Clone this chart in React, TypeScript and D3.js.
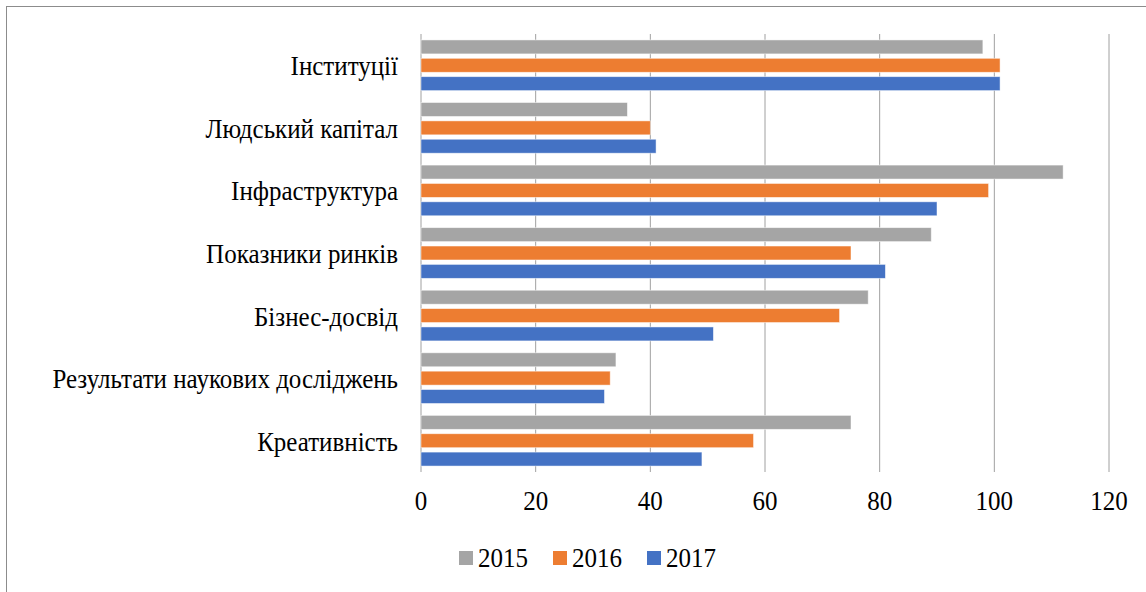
import React, { useEffect, useRef } from 'react';
import * as d3 from 'd3';

// categories top to bottom
const categories = [
  'Інституції',
  'Людський капітал',
  'Інфраструктура',
  'Показники ринків',
  'Бізнес-досвід',
  'Результати наукових досліджень',
  'Креативність',
];
const years = ['2015', '2016', '2017'];
const values2015 = [98, 36, 112, 89, 78, 34, 75];
const values2016 = [101, 40, 99, 75, 73, 33, 58];
const values2017 = [101, 41, 90, 81, 51, 32, 49];
const xTicks = [0, 20, 40, 60, 80, 100, 120];
const colors = ['#a5a5a5', '#ed7d31', '#4472c4'];

const W = 1146;
const H = 592;

export default function App() {
  const ref = useRef<SVGSVGElement>(null);

  useEffect(() => {
    const svg = d3.select(ref.current);
    svg.selectAll('*').remove();
    const series = [values2015, values2016, values2017];

    const x = d3.scaleLinear().domain([0, 120]).range([421, 1109]);
    const y = d3.scaleBand().domain(categories).range([34, 472]).paddingInner(0.19).paddingOuter(0.095);
    const sub = d3.scaleBand().domain(years).range([0, y.bandwidth()]).paddingInner(0.24);

    svg.append('rect')
      .attr('x', 6.5).attr('y', 6.5)
      .attr('width', W + 10).attr('height', H + 10)
      .attr('fill', '#fff').attr('stroke', '#8c8c8c');

    // grid
    svg.append('g').selectAll('line').data(xTicks).join('line')
      .attr('x1', (d) => x(d)).attr('x2', (d) => x(d))
      .attr('y1', 34).attr('y2', 472)
      .attr('stroke', '#a0a0a0');

    // bars
    const groups = svg.append('g').selectAll('g').data(categories).join('g')
      .attr('transform', (c) => `translate(0,${y(c)})`);
    groups.selectAll('rect')
      .data((c, i) => series.map((s, j) => ({ yr: years[j], v: s[categories.indexOf(c)], j })))
      .join('rect')
      .attr('x', x(0))
      .attr('y', (d) => sub(d.yr) as number)
      .attr('width', (d) => x(d.v) - x(0))
      .attr('height', sub.bandwidth())
      .attr('fill', (d) => colors[d.j])
      .attr('stroke', '#fff').attr('stroke-opacity', 0.6).attr('stroke-width', 0.8);

    const label = (g: any) => g
      .style('font-family', 'Liberation Serif')
      .style('font-size', '25px')
      .attr('fill', '#000');

    // category labels
    svg.append('g').selectAll('text').data(categories).join('text')
      .attr('transform', (c) => `translate(398,${(y(c) as number) + y.bandwidth() / 2 + 10}) scale(1,1.1)`)
      .attr('text-anchor', 'end')
      .text((c) => c)
      .call(label);

    // tick labels
    svg.append('g').selectAll('text').data(xTicks).join('text')
      .attr('transform', (t) => `translate(${x(t)},510) scale(1,1.1)`)
      .attr('text-anchor', 'middle')
      .text((t) => String(t))
      .call(label);

    // legend
    const leg = svg.append('g').selectAll('g').data(years).join('g')
      .attr('transform', (yr, j) => `translate(${459 + j * 94},0)`);
    leg.append('rect').attr('y', 551).attr('width', 14).attr('height', 14)
      .attr('fill', (yr, j) => colors[j]);
    leg.append('text')
      .attr('transform', 'translate(19,567) scale(1,1.1)')
      .text((yr) => yr)
      .call(label);
  }, []);

  return (
    <svg ref={ref} width={W} height={H} style={{ position: 'absolute', left: 0, top: 0, background: '#fff' }} />
  );
}
